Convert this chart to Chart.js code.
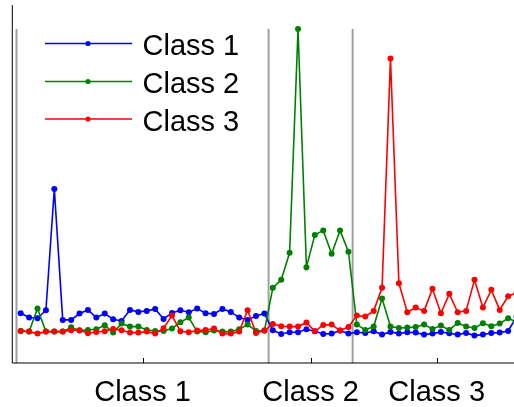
<!DOCTYPE html>
<html>
<head>
<meta charset="utf-8">
<script src="https://cdn.jsdelivr.net/npm/chart.js@4"></script>
<style>
  html, body { margin: 0; padding: 0; background: #fff; }
</style>
</head>
<body>
<canvas id="chart" width="514" height="407"></canvas>
<script>
const seriesNames = ["Class 1", "Class 2", "Class 3"];
const seriesColors = ["#0000ff", "#008000", "#ff0000"];
const groupLabels = ["Class 1", "Class 2", "Class 3"];
const groupTicks = [15.5, 35.5, 50.5];
const groupBounds = [0.5, 30.5, 40.5];

const class1 = [
  14.9, 13.6, 13.4, 15.8, 52.1, 12.9, 12.9, 14.8, 15.9, 13.6,
  14.8, 13.1, 12.6, 15.9, 15.3, 15.6, 16.2, 13.2, 15.0, 15.8,
  15.2, 16.3, 14.9, 14.7, 16.2, 15.3, 13.6, 12.9, 14.1, 14.8,
  9.8, 8.7, 9.2, 9.2, 10.1, 9.5, 8.7, 8.8, 9.7, 8.8,
  9.2, 9.0, 9.5, 8.5, 9.3, 8.8, 9.2, 9.1, 8.5, 8.8,
  9.3, 8.9, 8.5, 9.0, 8.2, 8.5, 9.0, 9.1, 9.6, 13.8
];
const class2 = [
  9.6, 9.4, 16.3, 9.4, 9.4, 9.4, 10.7, 9.7, 9.9, 10.1,
  11.3, 9.1, 11.8, 10.9, 10.9, 9.9, 9.6, 9.6, 10.3, 12.2,
  13.6, 9.4, 9.2, 9.7, 9.4, 9.4, 10.1, 11.5, 9.6, 9.7,
  22.5, 24.9, 33.0, 100, 28.7, 38.3, 39.7, 32.7, 39.7, 33.3,
  11.5, 9.9, 10.9, 19.3, 10.9, 10.5, 10.6, 10.8, 11.5, 10.2,
  11.2, 9.9, 12.0, 10.9, 10.5, 11.9, 11.0, 11.8, 13.4, 12.3
];
const class3 = [
  9.6, 9.4, 8.8, 9.4, 9.4, 9.4, 9.8, 9.8, 8.9, 9.3,
  9.5, 10.2, 9.8, 9.1, 9.1, 9.4, 8.8, 10.4, 14.2, 9.5,
  9.2, 9.7, 9.9, 10.3, 8.8, 8.8, 9.4, 15.8, 9.0, 9.7,
  11.7, 11.0, 10.9, 10.9, 12.1, 9.5, 11.4, 11.5, 9.7, 10.8,
  14.2, 13.9, 15.6, 22.5, 91.2, 23.9, 15.2, 16.6, 15.6, 22.2,
  14.9, 20.7, 15.2, 15.6, 24.9, 16.6, 21.9, 15.9, 20.0, 21.0
];

const allSeries = [class1, class2, class3];

const toPoints = (values) => values.map((v, i) => ({ x: i + 1, y: v }));

const overlay = {
  id: "overlay",
  beforeDatasetsDraw(chart) {
    const { ctx, scales } = chart;
    const x = scales.x, y = scales.y;
    ctx.save();
    ctx.strokeStyle = "#a0a0a0";
    ctx.lineWidth = 2;
    groupBounds.forEach((b) => {
      const px = x.getPixelForValue(b);
      ctx.beginPath();
      ctx.moveTo(px, y.getPixelForValue(100));
      ctx.lineTo(px, y.getPixelForValue(0));
      ctx.stroke();
    });
    ctx.restore();
  },
  afterDraw(chart) {
    const { ctx, chartArea, scales } = chart;
    const x = scales.x;
    ctx.save();
    // axes
    ctx.strokeStyle = "#000";
    ctx.lineWidth = 1;
    ctx.beginPath();
    ctx.moveTo(chartArea.left, chartArea.top);
    ctx.lineTo(chartArea.left, chartArea.bottom);
    ctx.lineTo(chartArea.right, chartArea.bottom);
    ctx.stroke();
    // ticks pointing inward
    groupTicks.forEach((t) => {
      const px = Math.round(x.getPixelForValue(t)) + 0.5;
      ctx.beginPath();
      ctx.moveTo(px, chartArea.bottom);
      ctx.lineTo(px, chartArea.bottom - 5);
      ctx.stroke();
    });
    // group labels
    ctx.fillStyle = "#000";
    ctx.font = "29px 'Liberation Sans', Arial, sans-serif";
    ctx.textAlign = "center";
    ctx.textBaseline = "alphabetic";
    groupTicks.forEach((t, i) => {
      ctx.fillText(groupLabels[i], x.getPixelForValue(t), 401);
    });
    // legend
    const rows = [43.5, 81.5, 119];
    ctx.textAlign = "left";
    seriesNames.forEach((name, i) => {
      ctx.strokeStyle = seriesColors[i];
      ctx.fillStyle = seriesColors[i];
      ctx.lineWidth = 1.5;
      ctx.beginPath();
      ctx.moveTo(45, rows[i]);
      ctx.lineTo(132, rows[i]);
      ctx.stroke();
      ctx.beginPath();
      ctx.arc(88, rows[i], 2.6, 0, Math.PI * 2);
      ctx.fill();
      ctx.fillStyle = "#000";
      ctx.fillText(name, 142.5, rows[i] + 11.5);
    });
    ctx.restore();
  }
};

new Chart(document.getElementById("chart"), {
  type: "line",
  data: {
    datasets: allSeries.map((values, i) => ({
      label: seriesNames[i],
      data: toPoints(values),
      borderColor: seriesColors[i],
      backgroundColor: seriesColors[i],
      pointBackgroundColor: seriesColors[i],
      pointBorderWidth: 0,
      pointRadius: 3,
      borderWidth: 1.6,
      tension: 0,
      order: 3 - i,
    })),
  },
  options: {
    responsive: false,
    animation: false,
    layout: { autoPadding: false, padding: { left: 12.3, top: 5, right: 0, bottom: 44 } },
    plugins: { legend: { display: false }, tooltip: { enabled: false } },
    scales: {
      x: { type: "linear", display: false, min: 0, max: 59.7 },
      y: { type: "linear", display: false, min: 0, max: 107.19 },
    },
  },
  plugins: [overlay],
});
</script>
</body>
</html>
